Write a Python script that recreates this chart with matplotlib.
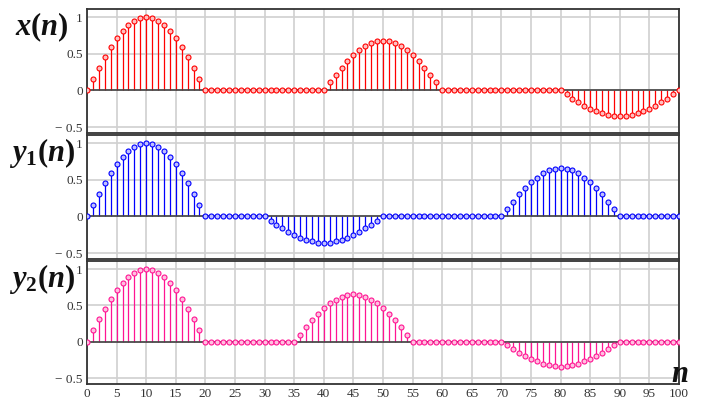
import numpy as np
import matplotlib.pyplot as plt

plt.rcParams['mathtext.fontset'] = 'custom'
plt.rcParams['mathtext.it'] = 'Liberation Serif:italic:bold'
plt.rcParams['mathtext.rm'] = 'Liberation Serif:bold'

n = np.arange(0, 101)

# signal values (n = 0..100)
x_vals = [
    0.00, 0.16, 0.31, 0.45, 0.59, 0.71, 0.81, 0.89, 0.95, 0.99,
    1.00, 0.99, 0.95, 0.89, 0.81, 0.71, 0.59, 0.45, 0.31, 0.16,
    0, 0, 0, 0, 0, 0, 0, 0, 0, 0,
    0, 0, 0, 0, 0, 0, 0, 0, 0, 0,
    0.00, 0.11, 0.21, 0.31, 0.40, 0.48, 0.55, 0.61, 0.65, 0.67,
    0.68, 0.67, 0.65, 0.61, 0.55, 0.48, 0.40, 0.31, 0.21, 0.11,
    0, 0, 0, 0, 0, 0, 0, 0, 0, 0,
    0, 0, 0, 0, 0, 0, 0, 0, 0, 0,
    0.00, -0.05, -0.11, -0.16, -0.21, -0.25, -0.28, -0.31, -0.33, -0.35,
    -0.35, -0.35, -0.33, -0.31, -0.28, -0.25, -0.21, -0.16, -0.11, -0.05,
    0.00,
]

y1_vals = [
    0.00, 0.16, 0.31, 0.45, 0.59, 0.71, 0.81, 0.89, 0.95, 0.99,
    1.00, 0.99, 0.95, 0.89, 0.81, 0.71, 0.59, 0.45, 0.31, 0.16,
    0, 0, 0, 0, 0, 0, 0, 0, 0, 0,
    0.00, -0.06, -0.11, -0.16, -0.21, -0.25, -0.29, -0.32, -0.34, -0.36,
    -0.36, -0.36, -0.34, -0.32, -0.29, -0.25, -0.21, -0.16, -0.11, -0.06,
    0, 0, 0, 0, 0, 0, 0, 0, 0, 0,
    0, 0, 0, 0, 0, 0, 0, 0, 0, 0,
    0.00, 0.10, 0.20, 0.30, 0.39, 0.47, 0.53, 0.59, 0.63, 0.65,
    0.66, 0.65, 0.63, 0.59, 0.53, 0.47, 0.39, 0.30, 0.20, 0.10,
    0, 0, 0, 0, 0, 0, 0, 0, 0, 0,
    0.00,
]

y2_vals = [
    0.00, 0.16, 0.31, 0.45, 0.59, 0.71, 0.81, 0.89, 0.95, 0.99,
    1.00, 0.99, 0.95, 0.89, 0.81, 0.71, 0.59, 0.45, 0.31, 0.16,
    0, 0, 0, 0, 0, 0, 0, 0, 0, 0,
    0, 0, 0, 0, 0, 0.00, 0.10, 0.20, 0.30, 0.38,
    0.46, 0.53, 0.58, 0.62, 0.64, 0.65, 0.64, 0.62, 0.58, 0.53,
    0.46, 0.38, 0.30, 0.20, 0.10, 0, 0, 0, 0, 0,
    0, 0, 0, 0, 0, 0, 0, 0, 0, 0,
    0.00, -0.05, -0.10, -0.15, -0.20, -0.24, -0.27, -0.30, -0.32, -0.33,
    -0.34, -0.33, -0.32, -0.30, -0.27, -0.24, -0.20, -0.15, -0.10, -0.05,
    0, 0, 0, 0, 0, 0, 0, 0, 0, 0,
    0.00,
]

series = [x_vals, y1_vals, y2_vals]
colors = ['#ff0000', '#0000ff', '#ff1493']
face_colors = ['#ffc0c0', '#c0c0ff', '#ffc0e0']
labels = [r'$x(n)$', r'$y_{1}(n)$', r'$y_{2}(n)$']

x_ticks = np.arange(0, 101, 5)
y_ticks = [-0.5, 0, 0.5, 1]
y_tick_labels = ['\u2212 0.5', '0', '0.5', '1']

W, H = 702, 403
fig = plt.figure(figsize=(W / 100, H / 100), dpi=100)

# panel boxes in pixels: (top, bottom)
panels = [(9, 133), (135, 259), (261, 384)]
left_px, right_px = 87, 679

tick_font = dict(family='Liberation Serif', size=9.5, color='#333333')

for i, (top, bot) in enumerate(panels):
    ax = fig.add_axes([left_px / W, 1 - bot / H, (right_px - left_px) / W, (bot - top) / H])
    vals = series[i]
    ml, sl, bl = ax.stem(n, vals, linefmt='-', markerfmt='o', basefmt='-')
    plt.setp(sl, color=colors[i], linewidth=0.9)
    plt.setp(ml, markersize=3.6, markeredgecolor=colors[i], markerfacecolor=face_colors[i],
             markeredgewidth=0.8, zorder=3)
    plt.setp(bl, color='#444444', linewidth=1.2, zorder=2)

    ax.set_xlim(0, 100)
    ax.set_ylim(-0.58, 1.11)
    ax.set_xticks(x_ticks)
    ax.set_yticks(y_ticks)
    ax.set_yticklabels(y_tick_labels, fontdict=tick_font)
    if i == 2:
        ax.set_xticklabels([str(t) for t in x_ticks], fontdict=tick_font)
    else:
        ax.set_xticklabels([])
    ax.tick_params(length=0, pad=3)
    ax.grid(True, color='#d0d0d0', linewidth=1.2)
    ax.set_axisbelow(True)
    for sp in ax.spines.values():
        sp.set_color('#333333')
        sp.set_linewidth(1.3)

    yc = 1 - (top + 18) / H
    fig.text(42 / W, yc, labels[i], ha='center', va='center', fontsize=22, color='#111111')

fig.text(680 / W, 1 - 374 / H, 'n', family='Liberation Serif', weight='bold', style='italic',
         fontsize=22, ha='center', va='center', color='#111111')

fig.savefig('out.png', dpi=100)
